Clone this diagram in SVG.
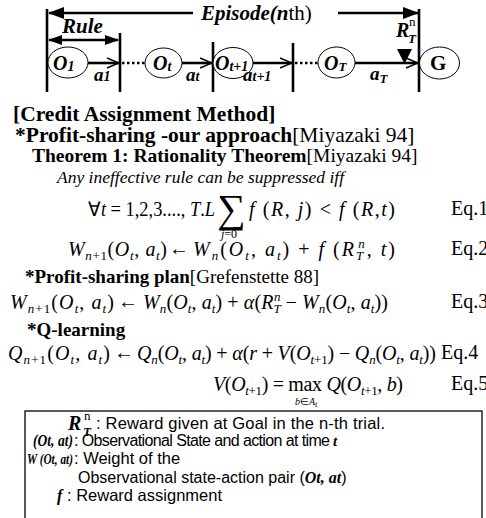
<svg xmlns="http://www.w3.org/2000/svg" width="486" height="518" viewBox="0 0 486 518">
<style>
.s{font-family:"Liberation Serif","Times New Roman",serif;fill:#000}
.ss{font-family:"Liberation Sans",Arial,sans-serif;fill:#000}
.b{font-weight:bold}
.i{font-style:italic}
.n{font-weight:normal;font-style:normal}
.node ellipse{fill:#fff;stroke:#000;stroke-width:1}
.bar{stroke:#000;stroke-width:2.6}
.act{stroke:#000;stroke-width:2.6;fill:none}
.dot{stroke:#000;stroke-width:2.6;stroke-dasharray:2.5 2.5}
</style>
<defs>
<marker id="fh" markerUnits="userSpaceOnUse" markerWidth="16" markerHeight="12" refX="15" refY="6" orient="auto-start-reverse"><path d="M0,0 L16,6 L0,12 z" fill="#000"/></marker>
<marker id="rh" markerUnits="userSpaceOnUse" markerWidth="14" markerHeight="10" refX="13" refY="5" orient="auto-start-reverse"><path d="M0,0 L14,5 L0,10 z" fill="#000"/></marker>
<marker id="oh" markerUnits="userSpaceOnUse" markerWidth="14" markerHeight="12" refX="13" refY="6" orient="auto"><path d="M1,1 L13,6 L1,11" fill="none" stroke="#000" stroke-width="1.4"/></marker>
</defs>
<rect width="486" height="518" fill="#fff"/>

<g id="connectors">
<line class="bar" x1="47" y1="9" x2="47" y2="92"/>
<line class="bar" x1="120" y1="33" x2="120" y2="92"/>
<line class="bar" x1="213" y1="42" x2="213" y2="92"/>
<line class="bar" x1="293" y1="43" x2="293" y2="92"/>
<line class="bar" x1="419" y1="9" x2="419" y2="92"/>
<line class="act" stroke-width="3" x1="193" y1="13" x2="49" y2="13" marker-end="url(#fh)"/>
<line class="act" stroke-width="3" x1="338" y1="13" x2="418" y2="13" marker-end="url(#fh)"/>
<line class="act" x1="49" y1="40" x2="118" y2="40" marker-start="url(#rh)" marker-end="url(#rh)"/>
<line class="act" x1="88" y1="63" x2="119" y2="63" marker-end="url(#oh)"/>
<line class="act" x1="182" y1="63" x2="212" y2="63" marker-end="url(#oh)"/>
<line class="act" x1="253" y1="63" x2="292" y2="63" marker-end="url(#oh)"/>
<line class="act" x1="355" y1="63" x2="418" y2="63" marker-end="url(#oh)"/>
<line class="dot" x1="122" y1="63" x2="145" y2="63"/>
<line class="dot" x1="295" y1="63" x2="318" y2="63"/>
<polygon points="397,49 412,49 404.5,64" fill="#000"/>
</g>

<g id="episode-label">
<text x="201" y="20" class="s b i" font-size="21">Episode(n<tspan class="n">th)</tspan></text>
</g>
<g id="rule-label">
<text x="62" y="33" class="s b i" font-size="21">Rule</text>
</g>
<g id="reward-label">
<text x="396" y="37" class="s b i" font-size="20">R</text>
<text x="408" y="43" class="s b i" font-size="13">T</text>
<text x="409" y="26" class="s" font-size="13">n</text>
</g>

<g id="node-o1" class="node">
<ellipse cx="68" cy="62.5" rx="20" ry="15.5"/>
<text x="53" y="70" class="s b i" font-size="20">O<tspan font-size="14" dy="1">1</tspan></text>
</g>
<g id="node-ot" class="node">
<ellipse cx="163.5" cy="63" rx="18.5" ry="15"/>
<text x="153" y="70" class="s b i" font-size="20">O<tspan font-size="14" dy="1">t</tspan></text>
</g>
<g id="node-ot1" class="node">
<ellipse cx="233" cy="63" rx="20" ry="15.5"/>
<text x="215" y="70" class="s b i" font-size="20">O<tspan font-size="14" dy="1">t+1</tspan></text>
</g>
<g id="node-oT" class="node">
<ellipse cx="336.5" cy="62.5" rx="18.5" ry="15.5"/>
<text x="324" y="70" class="s b i" font-size="20">O<tspan font-size="13" dy="1">T</tspan></text>
</g>
<g id="node-g" class="node">
<ellipse cx="439.5" cy="63" rx="20" ry="16"/>
<text x="430" y="70" class="s b" font-size="21">G</text>
</g>

<g id="action-labels">
<text x="94" y="81" class="s b i" font-size="19">a<tspan font-size="14">1</tspan></text>
<text x="186" y="81" class="s b i" font-size="19">a<tspan font-size="14">t</tspan></text>
<text x="243" y="81" class="s b i" font-size="19">a<tspan font-size="14">t+1</tspan></text>
<text x="370" y="80" class="s b i" font-size="19">a<tspan font-size="13" dy="3">T</tspan></text>
</g>

<g id="method-text">
<text x="13" y="121" class="s b" font-size="21.5">[Credit Assignment Method]</text>
<text x="15" y="142" class="s" font-size="21.5"><tspan class="b">*Profit-sharing -our approach</tspan>[Miyazaki 94]</text>
<text x="32" y="162" class="s" font-size="19.5"><tspan class="b">Theorem 1: Rationality Theorem</tspan>[Miyazaki 94]</text>
<text x="57" y="183" class="s i" font-size="17.5">Any ineffective rule can be suppressed iff</text>

<text x="88" y="216" class="s" font-size="20" textLength="127" lengthAdjust="spacingAndGlyphs">∀<tspan class="i">t</tspan> = 1,2,3...., <tspan class="i">T</tspan>.<tspan class="i">L</tspan></text>
<text x="217" y="222" class="s" font-size="40">∑</text>
<text x="221" y="238" class="s" font-size="12"><tspan class="i">j</tspan>=0</text>
<text x="249" y="216" class="s" font-size="20" textLength="146"><tspan class="i">f</tspan> (<tspan class="i">R</tspan>, <tspan class="i">j</tspan>) &lt; <tspan class="i">f</tspan> (<tspan class="i">R</tspan>,<tspan class="i">t</tspan>)</text>
<text x="451" y="215" class="s" font-size="20">Eq.1</text>

<text x="68" y="256" class="s" font-size="20" textLength="99"><tspan class="i">W</tspan><tspan font-size="13" dy="4"><tspan class="i">n</tspan>+1</tspan><tspan dy="-4">(</tspan><tspan class="i">O</tspan><tspan class="i" font-size="13" dy="4">t</tspan><tspan dy="-4">, </tspan><tspan class="i">a</tspan><tspan class="i" font-size="13" dy="4">t</tspan><tspan dy="-4">)</tspan></text>
<text x="169" y="255" class="s" font-size="20">←</text>
<text x="193" y="256" class="s" font-size="20" textLength="202"><tspan class="i">W</tspan><tspan class="i" font-size="13" dy="4">n</tspan><tspan dy="-4">(</tspan><tspan class="i">O</tspan><tspan class="i" font-size="13" dy="4">t</tspan><tspan dy="-4">, </tspan><tspan class="i">a</tspan><tspan class="i" font-size="13" dy="4">t</tspan><tspan dy="-4">) + </tspan><tspan class="i">f</tspan> (<tspan class="i">R</tspan><tspan class="i" font-size="13" dy="4">T</tspan><tspan class="i" font-size="13" dx="-7" dy="-12">n</tspan><tspan dy="8">, </tspan><tspan class="i">t</tspan>)</text>
<text x="451" y="255" class="s" font-size="20">Eq.2</text>

<text x="25" y="283" class="s" font-size="19"><tspan class="b">*Profit-sharing plan</tspan>[Grefenstette 88]</text>

<text x="10" y="309" class="s" font-size="20" textLength="104"><tspan class="i">W</tspan><tspan font-size="13" dy="4"><tspan class="i">n</tspan>+1</tspan><tspan dy="-4">(</tspan><tspan class="i">O</tspan><tspan class="i" font-size="13" dy="4">t</tspan><tspan dy="-4">, </tspan><tspan class="i">a</tspan><tspan class="i" font-size="13" dy="4">t</tspan><tspan dy="-4">)</tspan></text>
<text x="118" y="308" class="s" font-size="20">←</text>
<text x="143" y="309" class="s" font-size="20" textLength="245"><tspan class="i">W</tspan><tspan class="i" font-size="13" dy="4">n</tspan><tspan dy="-4">(</tspan><tspan class="i">O</tspan><tspan class="i" font-size="13" dy="4">t</tspan><tspan dy="-4">, </tspan><tspan class="i">a</tspan><tspan class="i" font-size="13" dy="4">t</tspan><tspan dy="-4">) + </tspan><tspan class="i">α</tspan>(<tspan class="i">R</tspan><tspan class="i" font-size="13" dy="4">T</tspan><tspan class="i" font-size="13" dx="-7" dy="-12">n</tspan><tspan dy="8"> − </tspan><tspan class="i">W</tspan><tspan class="i" font-size="13" dy="4">n</tspan><tspan dy="-4">(</tspan><tspan class="i">O</tspan><tspan class="i" font-size="13" dy="4">t</tspan><tspan dy="-4">, </tspan><tspan class="i">a</tspan><tspan class="i" font-size="13" dy="4">t</tspan><tspan dy="-4">))</tspan></text>
<text x="451" y="308" class="s" font-size="20">Eq.3</text>

<text x="27" y="336" class="s b" font-size="19">*Q-learning</text>

<text x="8" y="360" class="s" font-size="20" textLength="102"><tspan class="i">Q</tspan><tspan font-size="13" dy="4"><tspan class="i">n</tspan>+1</tspan><tspan dy="-4">(</tspan><tspan class="i">O</tspan><tspan class="i" font-size="13" dy="4">t</tspan><tspan dy="-4">, </tspan><tspan class="i">a</tspan><tspan class="i" font-size="13" dy="4">t</tspan><tspan dy="-4">)</tspan></text>
<text x="114" y="359" class="s" font-size="20">←</text>
<text x="137" y="360" class="s" font-size="20" textLength="299"><tspan class="i">Q</tspan><tspan class="i" font-size="13" dy="4">n</tspan><tspan dy="-4">(</tspan><tspan class="i">O</tspan><tspan class="i" font-size="13" dy="4">t</tspan><tspan dy="-4">, </tspan><tspan class="i">a</tspan><tspan class="i" font-size="13" dy="4">t</tspan><tspan dy="-4">) + </tspan><tspan class="i">α</tspan>(<tspan class="i">r</tspan> + <tspan class="i">V</tspan>(<tspan class="i">O</tspan><tspan font-size="13" dy="4"><tspan class="i">t</tspan>+1</tspan><tspan dy="-4">) − </tspan><tspan class="i">Q</tspan><tspan class="i" font-size="13" dy="4">n</tspan><tspan dy="-4">(</tspan><tspan class="i">O</tspan><tspan class="i" font-size="13" dy="4">t</tspan><tspan dy="-4">, </tspan><tspan class="i">a</tspan><tspan class="i" font-size="13" dy="4">t</tspan><tspan dy="-4">))</tspan></text>
<text x="441" y="359" class="s" font-size="20">Eq.4</text>

<text x="213" y="391" class="s" font-size="20" textLength="190"><tspan class="i">V</tspan>(<tspan class="i">O</tspan><tspan font-size="13" dy="4"><tspan class="i">t</tspan>+1</tspan><tspan dy="-4">) = max </tspan><tspan class="i">Q</tspan>(<tspan class="i">O</tspan><tspan font-size="13" dy="4"><tspan class="i">t</tspan>+1</tspan><tspan dy="-4">, </tspan><tspan class="i">b</tspan>)</text>
<text x="295" y="405" class="s" font-size="10"><tspan class="i">b</tspan>∈<tspan class="i">A</tspan><tspan class="i" font-size="8" dy="2">t</tspan></text>
<text x="451" y="390" class="s" font-size="20">Eq.5</text>
</g>

<g id="legend">
<rect x="25" y="411" width="457" height="130" fill="#fff" stroke="#000" stroke-width="1.3"/>
<text x="68" y="430" class="s b i" font-size="20">R</text>
<text x="83" y="436" class="s b i" font-size="13">T</text>
<text x="84" y="420" class="s" font-size="13">n</text>
<text x="96" y="429" class="ss" font-size="16.5" textLength="289">:  Reward given at Goal in the n-th trial.</text>

<text x="33" y="446" class="s b i" font-size="16" textLength="40" lengthAdjust="spacingAndGlyphs">(Ot, at)</text>
<text x="74" y="446" class="ss" font-size="16" textLength="256">: Observational State and action  at time</text>
<text x="333" y="446" class="s b i" font-size="15">t</text>

<text x="27" y="464" class="s b i" font-size="15.5" textLength="46" lengthAdjust="spacingAndGlyphs">W (Ot, at)</text>
<text x="74" y="464" class="ss" font-size="16.5">: Weight of the</text>

<text x="78" y="483" class="ss" font-size="16">Observational state-action pair (<tspan class="s b i">Ot, at</tspan>)</text>

<text x="57" y="501" class="s b i" font-size="16">f</text>
<text x="67" y="501" class="ss" font-size="16.5">: Reward assignment</text>
</g>
</svg>
